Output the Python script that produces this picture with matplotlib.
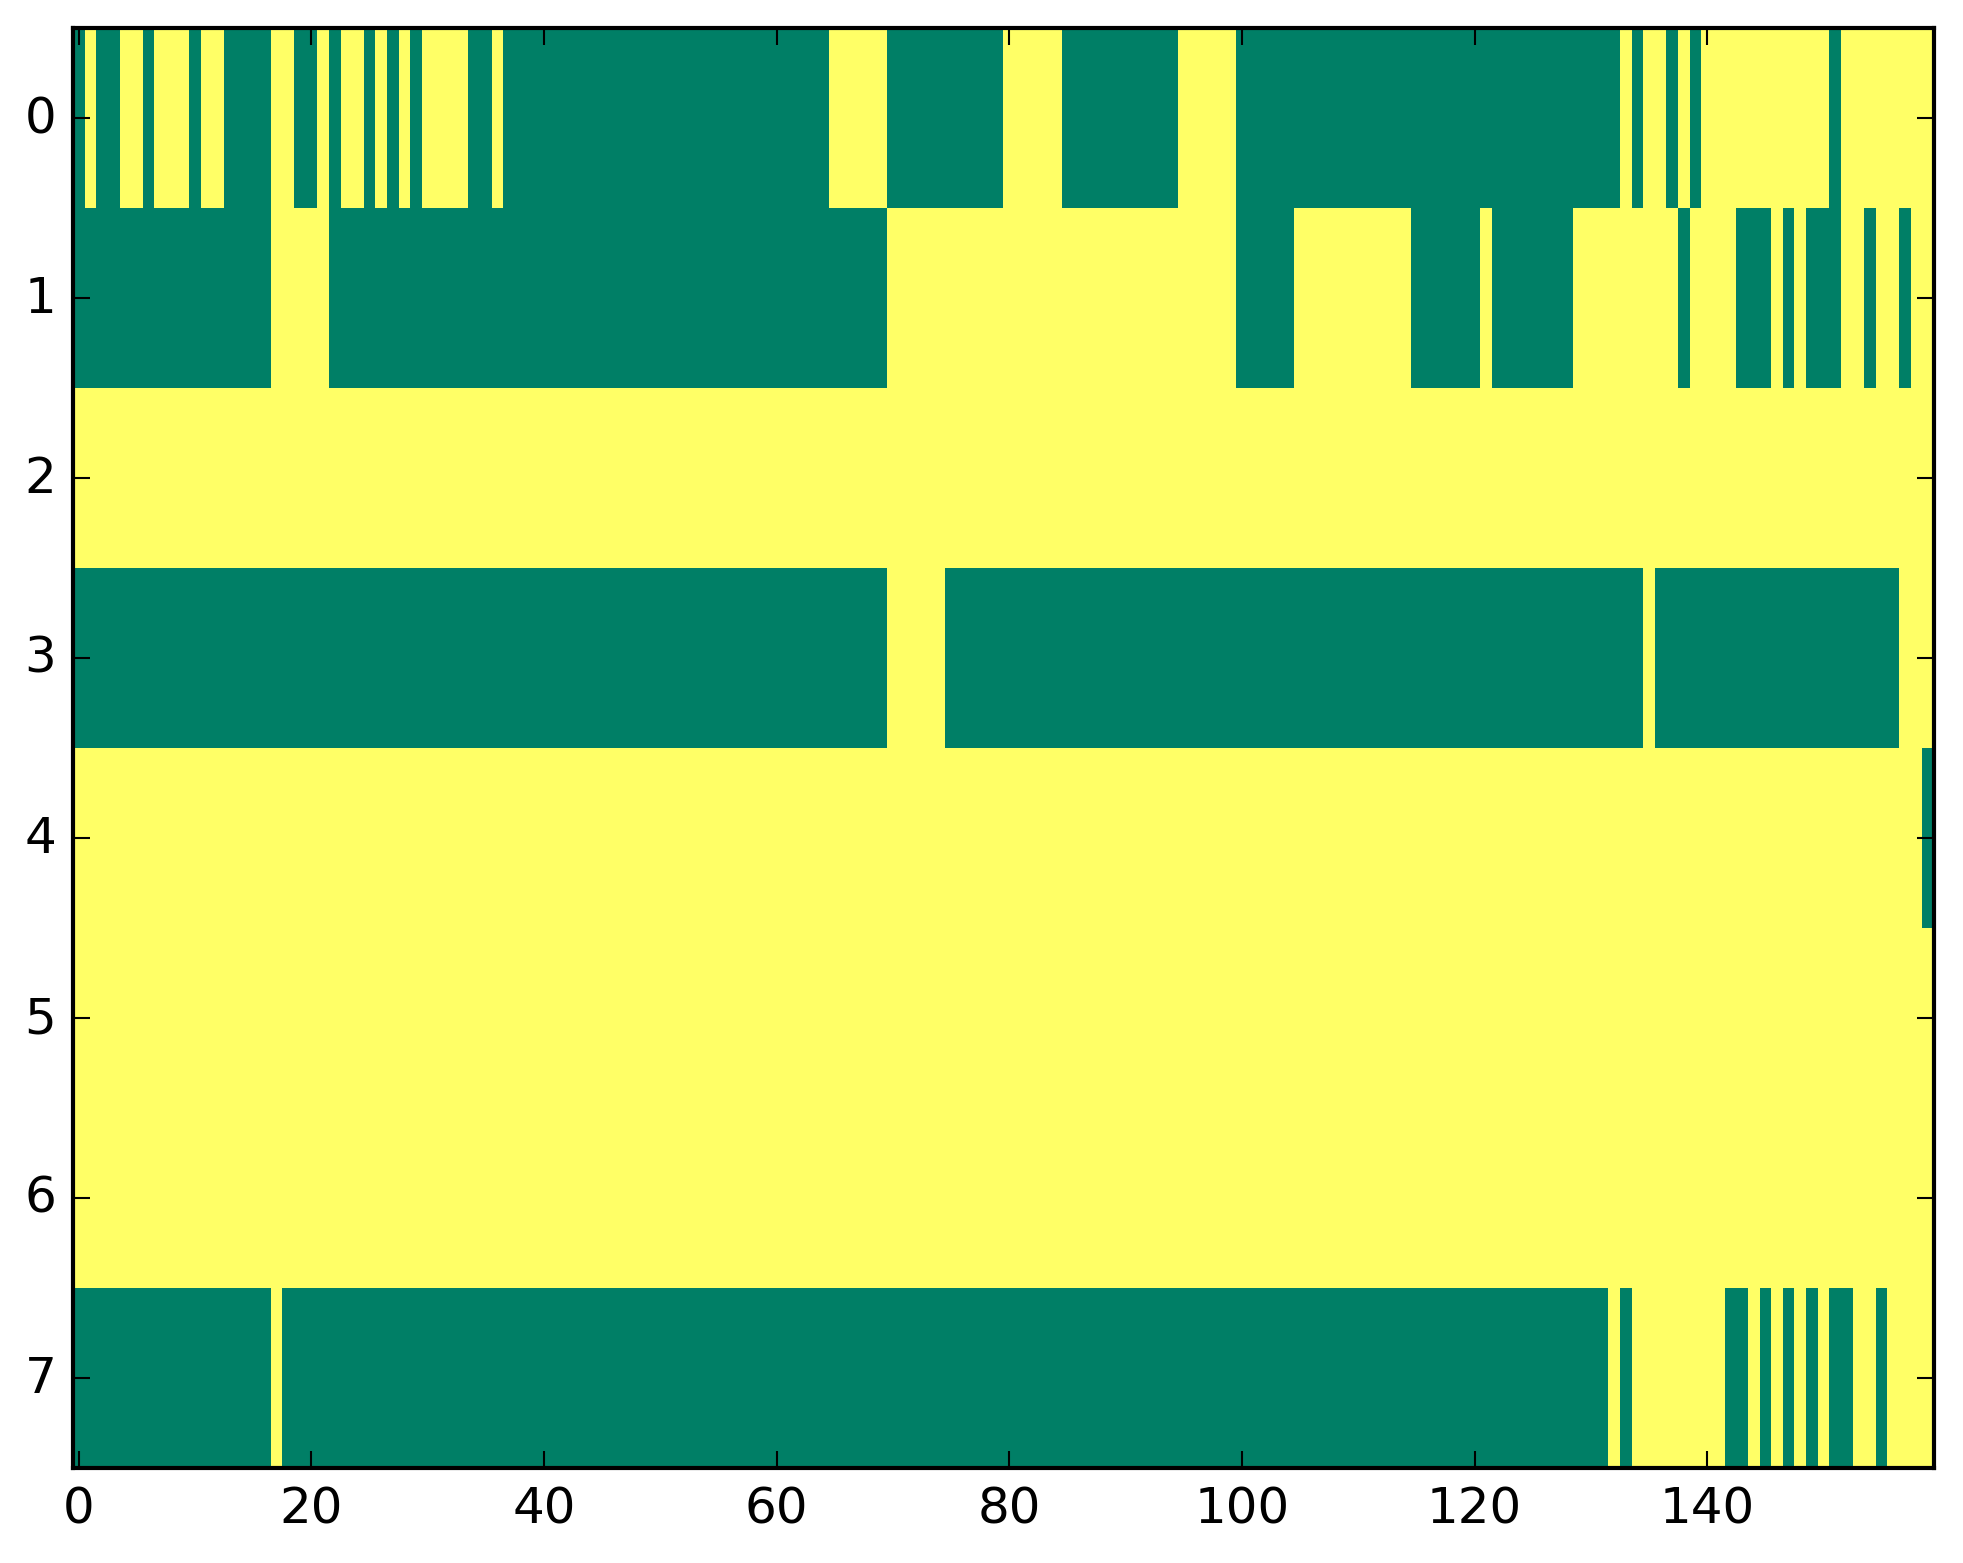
import numpy as np
import matplotlib
matplotlib.use('Agg')
import matplotlib.pyplot as plt

# one string per row, grouped by 10 columns (1 = yellow, 0 = green)
row0 = "0100110111 0110000110 0101101010 1111001000 0000000000 0000000000 0000011111 0000000000 1111100000 0000011111 0000000000 0000000000 0000000000 0001011010 1111111111 1011111111"
row1 = "0000000000 0000000111 1100000000 0000000000 0000000000 0000000000 0000000000 1111111111 1111111111 1111111111 0000011111 1111100000 0100000001 1111111101 1110001010 0011011011"
row2 = "1111111111 1111111111 1111111111 1111111111 1111111111 1111111111 1111111111 1111111111 1111111111 1111111111 1111111111 1111111111 1111111111 1111111111 1111111111 1111111111"
row3 = "0000000000 0000000000 0000000000 0000000000 0000000000 0000000000 0000000000 1111100000 0000000000 0000000000 0000000000 0000000000 0000000000 0000010000 0000000000 0000000111"
row4 = "1111111111 1111111111 1111111111 1111111111 1111111111 1111111111 1111111111 1111111111 1111111111 1111111111 1111111111 1111111111 1111111111 1111111111 1111111111 1111111110"
row5 = "1111111111 1111111111 1111111111 1111111111 1111111111 1111111111 1111111111 1111111111 1111111111 1111111111 1111111111 1111111111 1111111111 1111111111 1111111111 1111111111"
row6 = "1111111111 1111111111 1111111111 1111111111 1111111111 1111111111 1111111111 1111111111 1111111111 1111111111 1111111111 1111111111 1111111111 1111111111 1111111111 1111111111"
row7 = "0000000000 0000000100 0000000000 0000000000 0000000000 0000000000 0000000000 0000000000 0000000000 0000000000 0000000000 0000000000 0000000000 0010111111 1100101010 1001101111"

rows = [row0, row1, row2, row3, row4, row5, row6, row7]
xticks = [0, 20, 40, 60, 80, 100, 120, 140]
yticks = [0, 1, 2, 3, 4, 5, 6, 7]

def parse(s):
	return [int(ch) for ch in s.replace(' ', '')]

data = np.array([parse(r) for r in rows])
assert data.shape == (8, 160)

plt.style.use('classic')
W, H = 1963, 1564
fig = plt.figure(figsize=(W / 300.0, H / 300.0), dpi=300)
ax = fig.add_axes([73.0 / W, (H - 1469.0) / H, 1861.0 / W, 1440.0 / H])
ax.imshow(data, cmap='summer', vmin=0, vmax=1, aspect='auto', interpolation='nearest')
ax.set_xticks(xticks)
ax.set_yticks(yticks)
ax.set_xlim(-0.5, data.shape[1] - 0.5)
ax.set_ylim(data.shape[0] - 0.5, -0.5)

fig.savefig('out.png', dpi=300)
